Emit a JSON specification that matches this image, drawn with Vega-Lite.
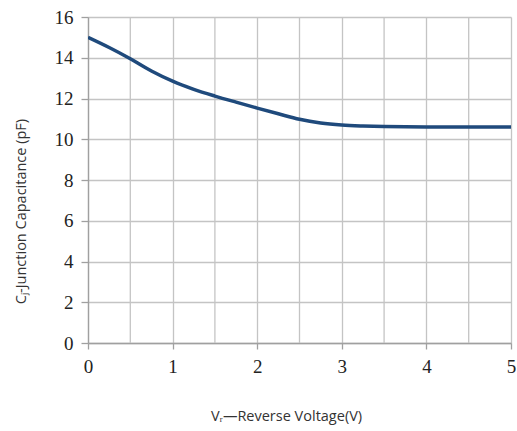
{
  "$schema": "https://vega.github.io/schema/vega-lite/v6.json",
  "autosize": "none",
  "padding": {"left": 88, "top": 17, "right": 6, "bottom": 88},
  "width": 423,
  "height": 326,
  "background": "white",
  "config": {
    "view": {"stroke": null},
    "axis": {"gridColor": "#c4c4c4", "gridWidth": 1.3, "domainColor": "#a0a0a0", "domainWidth": 1.3, "tickColor": "#a0a0a0", "tickWidth": 1.3, "gridOpacity": 1}
  },
  "data": {
    "values": [
      {"v": 0, "c": 15.0},
      {"v": 0.25, "c": 14.5},
      {"v": 0.5, "c": 13.95},
      {"v": 0.75, "c": 13.35},
      {"v": 1.0, "c": 12.85},
      {"v": 1.25, "c": 12.45},
      {"v": 1.5, "c": 12.12},
      {"v": 1.75, "c": 11.82},
      {"v": 2.0, "c": 11.53},
      {"v": 2.25, "c": 11.25},
      {"v": 2.5, "c": 10.98},
      {"v": 2.75, "c": 10.8},
      {"v": 3.0, "c": 10.7},
      {"v": 3.25, "c": 10.65},
      {"v": 3.5, "c": 10.62},
      {"v": 4.0, "c": 10.6},
      {"v": 4.5, "c": 10.6},
      {"v": 5.0, "c": 10.6}
    ]
  },
  "layer": [
    {
      "mark": {"type": "rule", "color": "#c4c4c4", "strokeWidth": 1.3},
      "data": {"values": [{"x": 0.5}, {"x": 1.5}, {"x": 2.5}, {"x": 3.5}, {"x": 4.5}]},
      "encoding": {"x": {"field": "x", "type": "quantitative", "scale": {"domain": [0, 5]}}}
    },
    {
      "mark": {"type": "line", "color": "#1f4a7c", "strokeWidth": 3.5, "interpolate": "monotone", "clip": true},
      "encoding": {
        "x": {
          "field": "v", "type": "quantitative",
          "scale": {"domain": [0, 5], "nice": false},
          "axis": {
            "values": [0, 1, 2, 3, 4, 5], "format": "d", "labelFlush": false,
            "title": "Vᵣ—Reverse Voltage(V)",
            "labelFont": "Liberation Serif", "labelFontSize": 19, "labelColor": "#222",
            "labelPadding": 8, "tickSize": 6,
            "titleFont": "Open Sans", "titleFontSize": 14.5, "titleFontWeight": "normal", "titleColor": "#333",
            "titlePadding": 33, "titleX": 198
          }
        },
        "y": {
          "field": "c", "type": "quantitative",
          "scale": {"domain": [0, 16], "nice": false},
          "axis": {
            "values": [0, 2, 4, 6, 8, 10, 12, 14, 16], "labelFlush": false,
            "title": "Cⱼ-Junction Capacitance (pF)",
            "labelFont": "Liberation Serif", "labelFontSize": 19, "labelColor": "#222",
            "labelPadding": 8, "tickSize": 7,
            "titleFont": "Open Sans", "titleFontSize": 14.5, "titleFontWeight": "normal", "titleColor": "#333",
            "titlePadding": 26, "titleY": 194
          }
        }
      }
    }
  ]
}
